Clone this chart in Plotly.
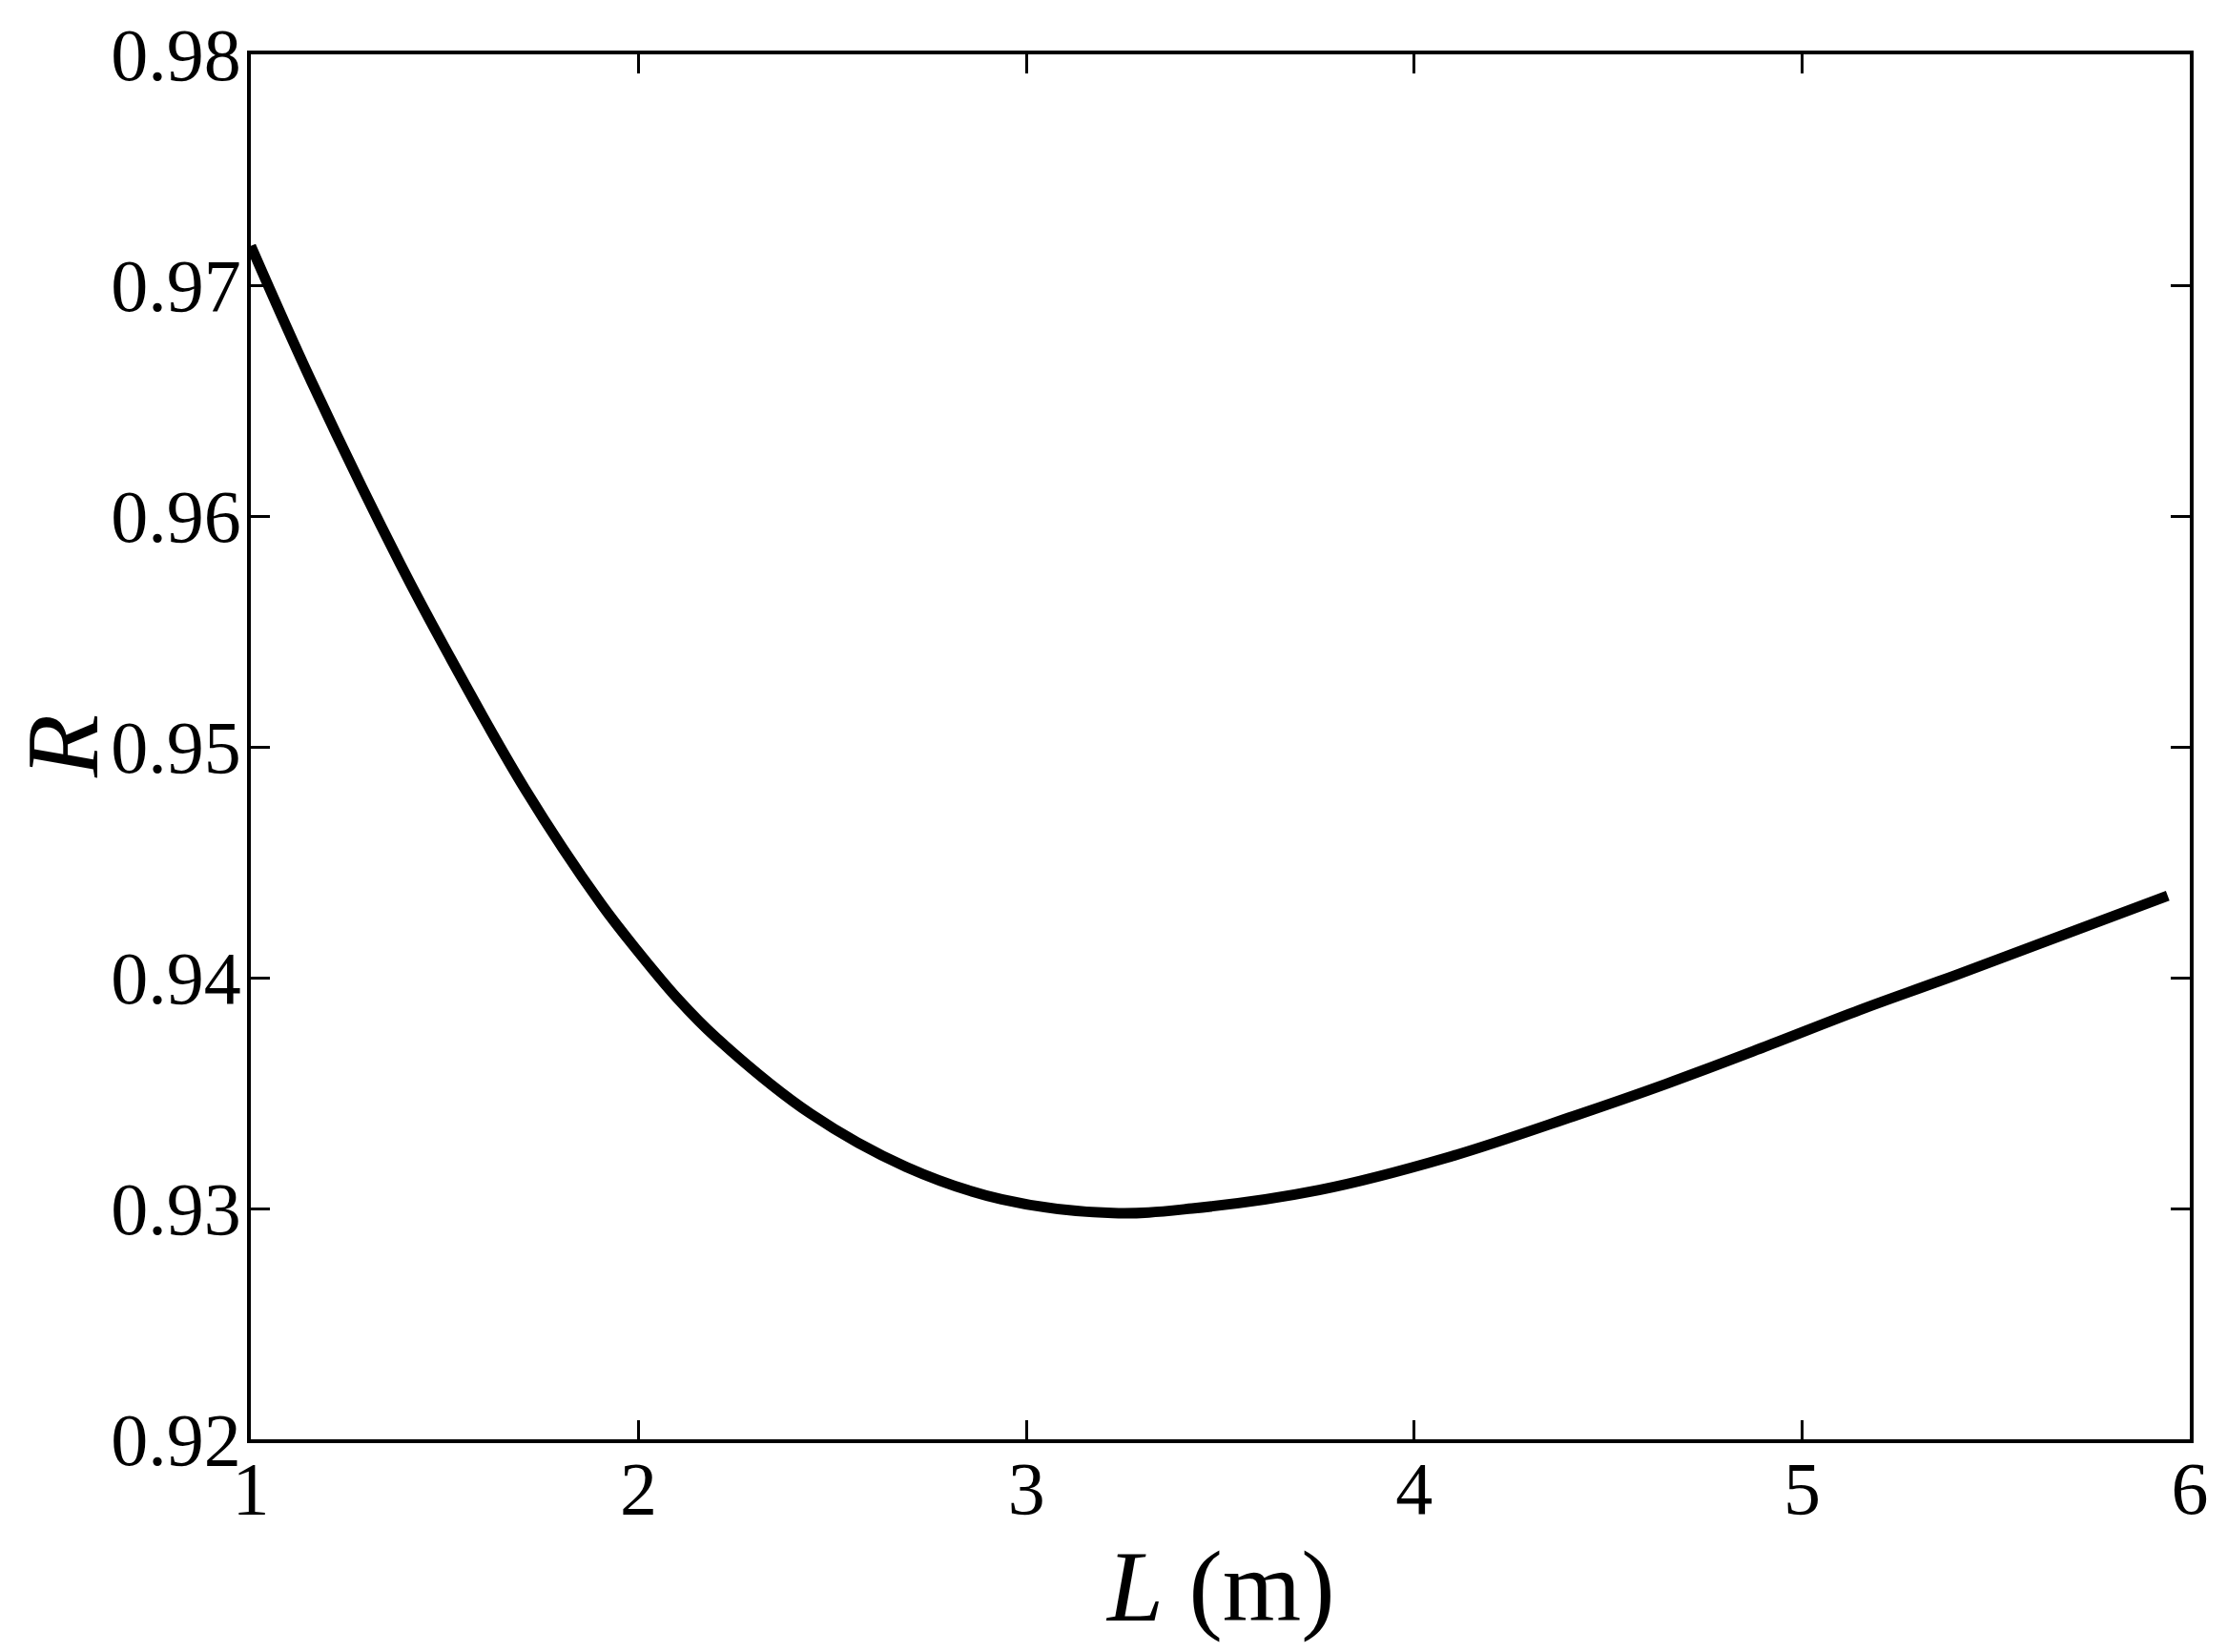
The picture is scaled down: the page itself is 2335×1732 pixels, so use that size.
import plotly.graph_objects as go

# Data
L_values = [1.0, 1.157, 1.386, 1.5, 1.706, 1.903, 2.0, 2.1, 2.2, 2.444, 2.69, 2.936,
            3.223, 3.427, 3.755, 4.084, 4.411, 4.65, 4.903, 5.149, 5.395, 5.943]
R_values = [0.9717, 0.9658, 0.9579, 0.9543, 0.9482, 0.9432, 0.9411, 0.9391, 0.9374,
            0.9341, 0.9318, 0.9304, 0.9298, 0.9300, 0.9308, 0.9322, 0.9340, 0.9354,
            0.9370, 0.9386, 0.9401, 0.94355]

x_ticks = [1, 2, 3, 4, 5, 6]
y_ticks = [0.92, 0.93, 0.94, 0.95, 0.96, 0.97, 0.98]
y_tick_labels = ["0.92", "0.93", "0.94", "0.95", "0.96", "0.97", "0.98"]

FONT = "Liberation Serif, Times New Roman, serif"

fig = go.Figure()
fig.add_trace(go.Scatter(
    x=L_values, y=R_values, mode="lines",
    line=dict(color="black", width=11, shape="spline", smoothing=1.0),
    showlegend=False, hoverinfo="skip",
))

axis_common = dict(
    showline=True, linecolor="black", linewidth=3.5, mirror="ticks",
    ticks="inside", ticklen=20, tickwidth=3, tickcolor="black",
    showgrid=False, zeroline=False,
    tickfont=dict(family=FONT, size=78, color="black"),
)

fig.update_xaxes(range=[1, 6], tickvals=x_ticks, ticktext=[str(v) for v in x_ticks],
                 ticklabelstandoff=-19, **axis_common)
fig.update_yaxes(range=[0.92, 0.98], tickvals=y_ticks, ticktext=y_tick_labels,
                 ticklabelstandoff=-9, **axis_common)

fig.add_annotation(text="<i>L</i> (m)", xref="paper", yref="paper", x=0.5, y=0,
                   yshift=-94, xanchor="center", yanchor="top", showarrow=False,
                   font=dict(family=FONT, size=106, color="black"))
fig.add_annotation(text="<i>R</i>", xref="paper", yref="paper", x=0, y=0.5,
                   xshift=-198, xanchor="center", yanchor="middle", textangle=-90,
                   showarrow=False, font=dict(family=FONT, size=108, color="black"))

fig.update_layout(
    width=2335, height=1732,
    margin=dict(l=263, r=39, t=57, b=223, autoexpand=False),
    paper_bgcolor="white", plot_bgcolor="white",
)

# remove the default 8px page margin so the figure fills the window exactly
fig.write_html("out.html", config={"displayModeBar": False},
               post_script="document.body.style.margin='0';")
